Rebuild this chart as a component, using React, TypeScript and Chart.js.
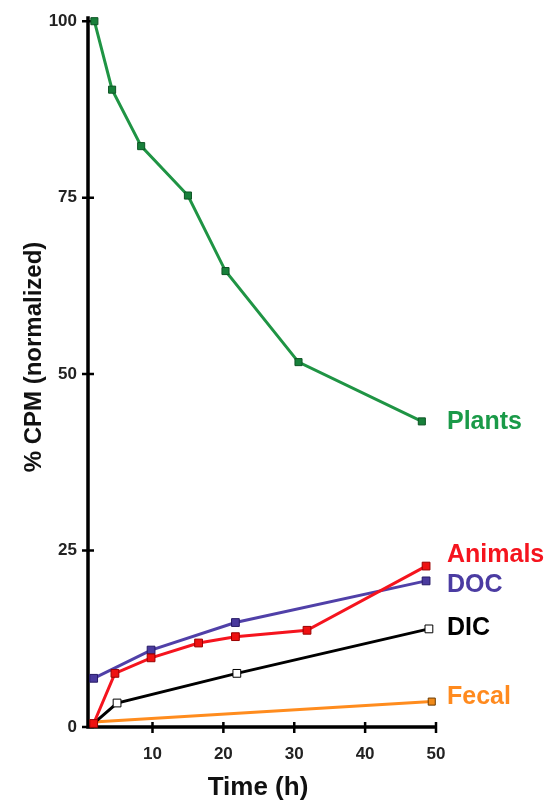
import React, { useEffect, useRef } from "react";
import { Chart, registerables } from "chart.js";

Chart.register(...registerables);

// ---- data ----
const timePlants = [1.8, 4.3, 8.4, 15.0, 20.3, 30.6, 48.0];
const plants = [100, 90.3, 82.3, 75.3, 64.6, 51.7, 43.3];
const timeAnimals = [1.7, 4.7, 9.8, 16.5, 21.7, 31.8, 48.6];
const animals = [0.5, 7.6, 9.8, 11.9, 12.8, 13.7, 22.8];
const timeDOC = [1.7, 9.8, 21.7, 48.6];
const doc = [6.9, 10.9, 14.8, 20.7];
const timeDIC = [1.7, 5.0, 21.9, 49.0];
const dic = [0.5, 3.4, 7.6, 13.9];
const timeFecal = [1.7, 49.4];
const fecal = [0.7, 3.6];

const xTickValues = [10, 20, 30, 40, 50];
const yTickValues = [0, 25, 50, 75, 100];
const xTitle = "Time (h)";
const yTitle = "% CPM (normalized)";

const FONT = "'Liberation Sans', Arial, Helvetica, sans-serif";

const pts = (xs: number[], ys: number[]) => xs.map((x, i) => ({ x, y: ys[i] }));

const labelOffsets: Record<string, number> = {
  Plants: 1,
  Animals: -11,
  DOC: 4,
  DIC: -1,
  Fecal: -4,
};

const axesPlugin = {
  id: "customAxes",
  beforeDatasetsDraw(chart: any) {
    const { ctx, chartArea } = chart;
    const xs = chart.scales.x;
    const ys = chart.scales.y;
    ctx.save();
    ctx.strokeStyle = "#000";
    ctx.lineWidth = 3.5;
    ctx.lineCap = "butt";
    ctx.beginPath();
    ctx.moveTo(chartArea.left, chartArea.top - 5);
    ctx.lineTo(chartArea.left, chartArea.bottom);
    ctx.lineTo(chartArea.right + 1, chartArea.bottom);
    ctx.stroke();
    ctx.lineWidth = 2.5;
    ctx.beginPath();
    for (const v of yTickValues) {
      const y = ys.getPixelForValue(v);
      ctx.moveTo(chartArea.left - 6, y);
      ctx.lineTo(chartArea.left + 6, y);
    }
    for (const v of xTickValues) {
      const x = xs.getPixelForValue(v);
      ctx.moveTo(x, chartArea.bottom - 5);
      ctx.lineTo(x, chartArea.bottom + 6);
    }
    ctx.stroke();
    ctx.restore();
  },
  afterDraw(chart: any) {
    const { ctx, chartArea } = chart;
    ctx.save();
    ctx.fillStyle = "#111";
    ctx.textAlign = "center";
    ctx.textBaseline = "alphabetic";
    ctx.font = `bold 26px ${FONT}`;
    ctx.fillText(xTitle, (chartArea.left + chartArea.right) / 2 - 4, 795);
    ctx.translate(41, 357);
    ctx.rotate(-Math.PI / 2);
    ctx.font = `bold 24px ${FONT}`;
    ctx.fillText(yTitle, 0, 0);
    ctx.restore();

    // series labels at line ends
    ctx.save();
    ctx.font = `bold 25px ${FONT}`;
    ctx.textAlign = "left";
    ctx.textBaseline = "middle";
    chart.data.datasets.forEach((ds: any, i: number) => {
      const meta = chart.getDatasetMeta(i);
      const last = meta.data[meta.data.length - 1];
      ctx.fillStyle = ds.labelColor;
      ctx.fillText(ds.label, chartArea.right + 11, last.y + (labelOffsets[ds.label] || 0));
    });
    ctx.restore();
  },
};

export default function App() {
  const canvasRef = useRef<HTMLCanvasElement | null>(null);

  useEffect(() => {
    if (!canvasRef.current) return;
    const hideFirst = (r: number) => (c: any) => (c.dataIndex === 0 ? 0 : r);
    const chart = new Chart(canvasRef.current, {
      type: "line",
      data: {
        datasets: [
          {
            label: "Plants",
            data: pts(timePlants, plants),
            borderColor: "#1f9444",
            backgroundColor: "#17803a",
            pointBorderColor: "#0d5424",
            labelColor: "#1a9a48",
            borderWidth: 3,
            pointStyle: "rect",
            pointRadius: 5,
            pointBorderWidth: 1,
          } as any,
          {
            label: "Animals",
            data: pts(timeAnimals, animals),
            borderColor: "#f5141e",
            backgroundColor: "#ee1111",
            pointBorderColor: "#9a0000",
            labelColor: "#f5141e",
            borderWidth: 3,
            pointStyle: "rect",
            pointRadius: 5.5,
            pointBorderWidth: 1,
          } as any,
          {
            label: "DOC",
            data: pts(timeDOC, doc),
            borderColor: "#5040a8",
            backgroundColor: "#4a3a9e",
            pointBorderColor: "#261a66",
            labelColor: "#4b3ca2",
            borderWidth: 3,
            pointStyle: "rect",
            pointRadius: 5.5,
            pointBorderWidth: 1,
          } as any,
          {
            label: "DIC",
            data: pts(timeDIC, dic),
            borderColor: "#000",
            backgroundColor: "#fff",
            pointBorderColor: "#000",
            labelColor: "#000",
            borderWidth: 3,
            pointStyle: "rect",
            pointRadius: hideFirst(5.5),
            pointBorderWidth: 1,
          } as any,
          {
            label: "Fecal",
            data: pts(timeFecal, fecal),
            borderColor: "#ff8c1e",
            backgroundColor: "#f08a1a",
            pointBorderColor: "#6a3a00",
            labelColor: "#ff8a1e",
            borderWidth: 3,
            pointStyle: "rect",
            pointRadius: hideFirst(5),
            pointBorderWidth: 1,
          } as any,
        ],
      },
      options: {
        animation: false,
        responsive: true,
        maintainAspectRatio: false,
        clip: false,
        layout: { padding: { top: 18, right: 119, bottom: 0, left: 0 } },
        plugins: {
          legend: { display: false },
          tooltip: { enabled: false },
          title: { display: false },
        },
        elements: { line: { tension: 0 } },
        scales: {
          x: {
            type: "linear",
            min: 0.9,
            max: 50,
            grid: { display: false, drawTicks: false },
            border: { display: false },
            afterBuildTicks: (s: any) => {
              s.ticks = xTickValues.map((v) => ({ value: v }));
            },
            afterFit: (s: any) => {
              s.height = 77;
            },
            ticks: {
              padding: 17,
              color: "#222",
              font: { family: FONT, size: 17, weight: "bold" },
              maxRotation: 0,
              autoSkip: false,
            },
          },
          y: {
            type: "linear",
            min: 0,
            max: 100,
            grid: { display: false, drawTicks: false },
            border: { display: false },
            afterBuildTicks: (s: any) => {
              s.ticks = yTickValues.map((v) => ({ value: v }));
            },
            afterFit: (s: any) => {
              s.width = 88;
            },
            ticks: {
              padding: 11,
              color: "#222",
              font: { family: FONT, size: 17, weight: "bold" },
              autoSkip: false,
            },
          },
        },
      } as any,
      plugins: [axesPlugin],
    });
    return () => chart.destroy();
  }, []);

  return (
    <div style={{ position: "absolute", left: 0, top: 0, width: 555, height: 804, background: "#fff" }}>
      <canvas ref={canvasRef} />
    </div>
  );
}
